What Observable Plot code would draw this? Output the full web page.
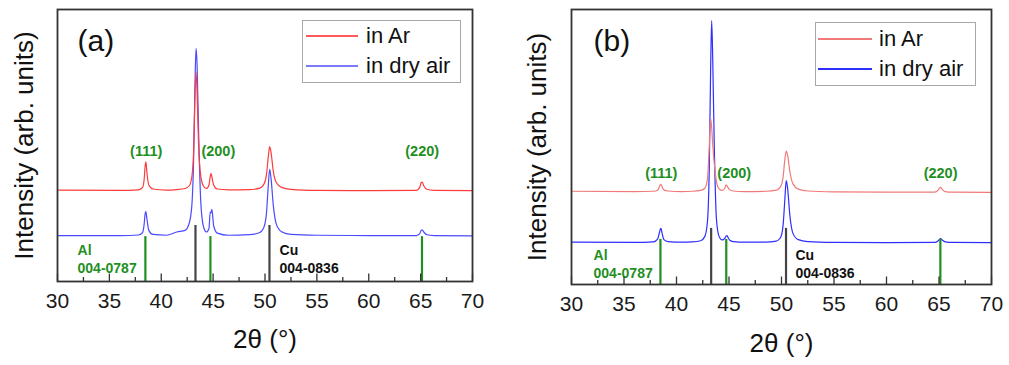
<!DOCTYPE html>
<html>
<head>
<meta charset="utf-8">
<script src="https://cdn.jsdelivr.net/npm/d3@7"></script>
<script src="https://cdn.jsdelivr.net/npm/@observablehq/plot@0.6"></script>
<style>
  html, body { margin: 0; padding: 0; background: #fff; }
  #wrap { position: relative; width: 1009px; height: 365px; font-family: "Liberation Sans", Arial, sans-serif; }
  .panel { position: absolute; top: 0; }
  .legend { position: absolute; border: 1px solid #a8a8a8; background: #fff; box-sizing: border-box; }
  .legend .sw { position: absolute; height: 2px; }
  .legend .lbl { position: absolute; font-size: 22px; line-height: 26px; color: #111; white-space: nowrap; }
</style>
</head>
<body>
<div id="wrap">
  <div class="panel" id="pa" style="left:0px;width:500px"></div>
  <div class="panel" id="pb" style="left:500px;width:509px"></div>
</div>
<script>
// ---- data ----
const twoTheta = [30, 36.0, 37.8, 38.2, 38.35, 38.45, 38.52, 38.62, 38.8, 39.2,
  40.5, 41.5, 42.3, 42.7, 42.95, 43.12, 43.25, 43.35, 43.45, 43.6,
  43.8, 44.05, 44.35, 44.6, 44.72, 44.8, 44.88, 45.05, 45.4, 46.5,
  48.5, 49.5, 49.9, 50.15, 50.32, 50.45, 50.58, 50.8, 51.1, 51.6,
  52.5, 55.0, 60.0, 64.6, 64.9, 65.05, 65.15, 65.3, 65.6, 66.3, 70];

const arA = [33.6, 33.5, 33.7, 34.6, 37.5, 42.5, 44.0, 40.0, 35.5, 34.0,
  33.6, 33.8, 34.2, 35.2, 38.5, 48, 68, 77, 70, 50,
  39, 35.2, 34.2, 35.5, 38.5, 39.8, 38.5, 35.5, 34.0, 33.7,
  33.8, 34.3, 35.8, 39.5, 46, 49.6, 47.5, 40.5, 36.3, 34.6,
  33.9, 33.5, 33.4, 33.5, 34.5, 36.3, 36.5, 35.2, 33.9, 33.5, 33.4];

const airA = [16.9, 16.9, 17.1, 18.0, 21.0, 25.0, 25.7, 23.0, 18.8, 17.3,
  17.0, 18.2, 18.8, 21.5, 28, 45, 72, 85.7, 80, 55,
  30, 20.5, 18.2, 19.5, 25.5, 25.2, 26.5, 20.5, 17.8, 17.0,
  17.2, 18.0, 20.0, 25.5, 35.5, 41.2, 38, 28, 21, 18.3,
  17.3, 17.0, 16.9, 16.9, 17.5, 18.8, 19.0, 18.2, 17.2, 16.9, 16.8];

const arB = [33.9, 33.8, 33.9, 34.3, 35.3, 36.2, 36.4, 35.6, 34.4, 34.0,
  33.8, 33.9, 34.2, 35.0, 38.5, 50, 60.4, 57, 51, 44,
  37.5, 34.8, 34.2, 35.0, 36.2, 36.0, 35.4, 34.5, 34.0, 33.8,
  33.9, 34.3, 35.5, 39.0, 45.5, 48.5, 47.0, 41.0, 36.5, 34.7,
  34.0, 33.7, 33.6, 33.6, 34.2, 35.1, 35.3, 34.6, 33.8, 33.6, 33.5];

const airB = [15.4, 15.3, 15.5, 16.5, 18.5, 20.0, 20.4, 18.8, 16.3, 15.6,
  15.4, 15.5, 15.9, 17.5, 23, 42, 78, 96, 82, 50,
  24, 17.5, 16.2, 16.8, 17.6, 17.8, 17.3, 16.2, 15.6, 15.4,
  15.4, 15.8, 17.0, 21.5, 31, 37.8, 35, 25, 18.5, 16.3,
  15.6, 15.3, 15.2, 15.3, 15.8, 16.5, 16.7, 16.2, 15.5, 15.3, 15.2];

const alPeaks = [38.47, 44.74, 65.13];
const cuPeaks = [43.30, 50.43];
const alStickA = [16.5, 16.5, 16.5];
const cuStickA = [20.6, 20.6];
const alStickB = [16.4, 16.4, 16.4];
const cuStickB = [20.4, 20.4];

const hklLabels = ["(111)", "(200)", "(220)"];
const hklLabelX = [38.55, 45.5, 65.15];
const hklLabelYA = [47.8, 47.8, 47.8];
const hklLabelYB = [40.4, 40.4, 40.4];

const majorTicks = [30, 35, 40, 45, 50, 55, 60, 65, 70];
const minorTicks = [32.5, 37.5, 42.5, 47.5, 52.5, 57.5, 62.5, 67.5];

const seriesNames = ["in Ar", "in dry air"];

// ---- drawing ----
const FONT = '"Liberation Sans", Arial, sans-serif';
const GREEN = "#1f8f1f";

function panel(cfg) {
  const rows = (vals) => twoTheta.map((t, i) => ({t, v: vals[i]}));
  const al = alPeaks.map((p, i) => ({p, h: cfg.alStick[i]}));
  const cu = cuPeaks.map((p, i) => ({p, h: cfg.cuStick[i]}));
  const hkl = hklLabels.map((s, i) => ({s, x: hklLabelX[i], y: cfg.hklY[i]}));
  return Plot.plot({
    width: cfg.width, height: 365,
    marginLeft: cfg.ml, marginRight: cfg.mr, marginTop: 9, marginBottom: cfg.mb,
    style: {fontFamily: FONT, fontSize: "21px", color: "#1a1a1a", background: "#fff", overflow: "visible"},
    x: {domain: [30, 70]},
    y: {domain: [0, 100], axis: null},
    marks: [
      Plot.line(rows(cfg.air), {x: "t", y: "v", stroke: cfg.blue, strokeWidth: 1.2, curve: "monotone-x"}),
      Plot.line(rows(cfg.ar), {x: "t", y: "v", stroke: cfg.red, strokeWidth: 1.2, curve: "monotone-x"}),
      Plot.ruleX(cu, {x: "p", y1: 0, y2: "h", stroke: "#444", strokeWidth: 2.2}),
      Plot.ruleX(al, {x: "p", y1: 0, y2: "h", stroke: GREEN, strokeWidth: 2.2}),
      Plot.text(hkl, {x: "x", y: "y", text: "s", fill: GREEN, fontWeight: "bold", fontSize: 14.5}),
      Plot.text(["Al\n004-0787"], {x: cfg.alTextX, frameAnchor: "bottom", dy: cfg.annDy, textAnchor: "start", lineAnchor: "middle", lineHeight: 1.35, fill: GREEN, fontWeight: "bold", fontSize: 14}),
      Plot.text(["Cu\n004-0836"], {x: cfg.cuTextX, frameAnchor: "bottom", dy: cfg.annDy, textAnchor: "start", lineAnchor: "middle", lineHeight: 1.35, fill: "#111", fontWeight: "bold", fontSize: 14}),
      Plot.text([cfg.tag], {frameAnchor: "top-left", dx: cfg.tagDx, dy: 32, lineAnchor: "middle", textAnchor: "start", fontSize: 30, fill: "#111"}),
      Plot.axisX({ticks: majorTicks, tickSize: -7.5, text: null, stroke: "#333", strokeWidth: 1.3}),
      Plot.axisX({ticks: minorTicks, tickSize: -4, text: null, stroke: "#333", strokeWidth: 1.3}),
      Plot.axisX({ticks: majorTicks, tickSize: 0, tickPadding: cfg.tickPad, label: null, fill: "#1a1a1a"}),
      Plot.text(["2θ (°)"], {frameAnchor: "bottom", dy: cfg.xTitleDy, lineAnchor: "middle", fontSize: 26, fill: "#111"}),
      Plot.text(["Intensity (arb. units)"], {frameAnchor: "left", rotate: -90, dx: cfg.yTitleDx, textAnchor: "middle", lineAnchor: "middle", fontSize: 26, fill: "#111"}),
      Plot.frame({stroke: "#333", strokeWidth: 1.8})
    ]
  });
}

function legend(host, box, colors) {
  const lg = document.createElement("div");
  lg.className = "legend";
  Object.assign(lg.style, {left: box.left + "px", top: box.top + "px", width: box.w + "px", height: box.h + "px"});
  seriesNames.forEach((name, i) => {
    const sw = document.createElement("div");
    sw.className = "sw";
    sw.style.left = (box.swX - box.left - 1) + "px";
    sw.style.top = (box.rowY[i] - box.top - 2) + "px";
    sw.style.width = box.swW + "px";
    sw.style.background = colors[i];
    const lbl = document.createElement("div");
    lbl.className = "lbl";
    lbl.style.left = (box.swX - box.left - 1 + box.swW + box.gap) + "px";
    lbl.style.top = (box.rowY[i] - box.top - 14) + "px";
    lbl.textContent = name;
    lg.appendChild(sw); lg.appendChild(lbl);
  });
  host.appendChild(lg);
}

const pa = document.getElementById("pa");
pa.appendChild(panel({
  width: 500, ml: 57, mr: 28, mb: 84,
  ar: arA, air: airA, red: "#ff3b3b", blue: "#4a4aff",
  alStick: alStickA, cuStick: cuStickA, hklY: hklLabelYA,
  alTextX: 31.93, cuTextX: 51.4, annDy: -23.5,
  tag: "(a)", tagDx: 20, tickPad: 12, xTitleDy: 58, yTitleDx: -33
}));
legend(pa, {left: 302, top: 20, w: 159, h: 63, rowY: [36, 66], swX: 306, swW: 52, gap: 8}, ["#ff5a5a", "#7a7aff"]);

const pb = document.getElementById("pb");
pb.appendChild(panel({
  width: 509, ml: 71, mr: 18, mb: 81,
  ar: arB, air: airB, red: "#f07a7a", blue: "#2e2eff",
  alStick: alStickB, cuStick: cuStickB, hklY: hklLabelYB,
  alTextX: 32.1, cuTextX: 51.33, annDy: -21.5,
  tag: "(b)", tagDx: 22, tickPad: 12, xTitleDy: 59, yTitleDx: -34
}));
legend(pb, {left: 315, top: 22, w: 161, h: 64, rowY: [39, 69], swX: 318, swW: 54, gap: 7}, ["#f07a7a", "#2e2eff"]);
</script>
</body>
</html>
